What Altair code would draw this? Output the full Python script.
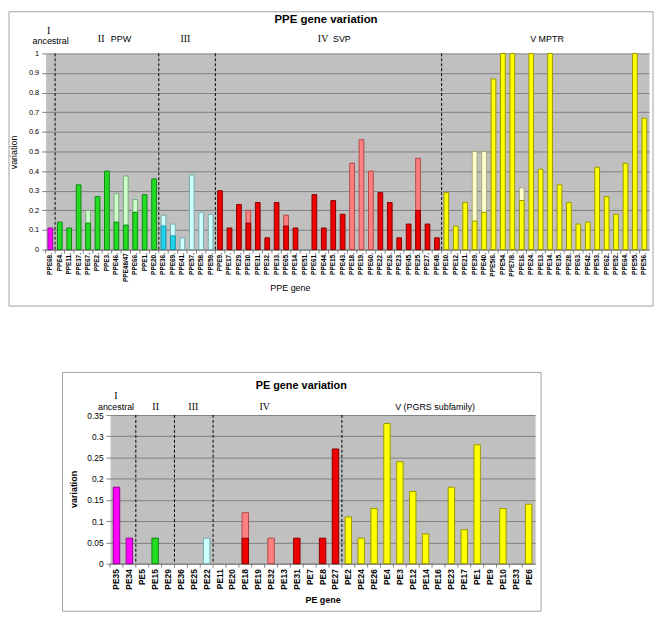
import altair as alt
import pandas as pd

# ---------------- PPE data ----------------
ppe_group_names = ["I", "II", "III", "IV", "V"]
ppe_group_sizes = [1, 11, 6, 24, 22]
ppe_genes = [
    "PPE68.",
    "PPE4.", "PPE11.", "PPE37.", "PPE67.", "PPE2.", "PPE3.", "PPE46.", "PPE48/47", "PPE66.", "PPE1.", "PPE20.",
    "PPE36.", "PPE69.", "PPE41.", "PPE57.", "PPE58.", "PPE59.",
    "PPE9.", "PPE17.", "PPE29.", "PPE30.", "PPE31.", "PPE32.", "PPE33.", "PPE65.", "PPE14.", "PPE51.",
    "PPE61.", "PPE44.", "PPE15.", "PPE43.", "PPE18.", "PPE19.", "PPE60.", "PPE22.", "PPE26.", "PPE23.",
    "PPE45.", "PPE25.", "PPE27.", "PPE49.",
    "PPE10.", "PPE12.", "PPE21.", "PPE39.", "PPE40.", "PPE5/6.", "PPE54.", "PPE7/8.", "PPE16.", "PPE24.",
    "PPE13.", "PPE34.", "PPE35.", "PPE28.", "PPE63.", "PPE42.", "PPE53.", "PPE62.", "PPE52.", "PPE64.",
    "PPE55.", "PPE56.",
]
# saturated (lower) part of each bar
ppe_dark = [
    0.11,
    0.14, 0.11, 0.33, 0.135, 0.27, 0.40, 0.14, 0.125, 0.19, 0.28, 0.36,
    0.12, 0.07, 0, 0, 0, 0,
    0.30, 0.11, 0.23, 0.135, 0.24, 0.06, 0.24, 0.12, 0.11, 0,
    0.28, 0.11, 0.25, 0.18, 0, 0, 0, 0.29, 0.24, 0.06,
    0.13, 0.20, 0.13, 0.06,
    0.29, 0.12, 0.24, 0.145, 0.19, 0.87, 1.0, 1.0, 0.25, 1.0,
    0.41, 1.0, 0.33, 0.24, 0.13, 0.14, 0.42, 0.27, 0.18, 0.44,
    1.0, 0.67,
]
# full bar height (pale part on top)
ppe_total = [
    0.11,
    0.14, 0.11, 0.33, 0.20, 0.27, 0.40, 0.285, 0.375, 0.255, 0.28, 0.36,
    0.175, 0.13, 0.06, 0.38, 0.19, 0.18,
    0.30, 0.11, 0.23, 0.20, 0.24, 0.06, 0.24, 0.175, 0.11, 0,
    0.28, 0.11, 0.25, 0.18, 0.44, 0.56, 0.40, 0.29, 0.24, 0.06,
    0.13, 0.465, 0.13, 0.06,
    0.29, 0.12, 0.24, 0.50, 0.50, 0.87, 1.0, 1.0, 0.315, 1.0,
    0.41, 1.0, 0.33, 0.24, 0.13, 0.14, 0.42, 0.27, 0.18, 0.44,
    1.0, 0.67,
]

# ---------------- PE data ----------------
pe_group_names = ["I", "II", "III", "IV", "V"]
pe_group_sizes = [2, 3, 3, 10, 15]
pe_genes = [
    "PE35", "PE34",
    "PE5", "PE15", "PE29",
    "PE36", "PE25", "PE22",
    "PE11", "PE20", "PE18", "PE19", "PE32", "PE13", "PE31", "PE7", "PE8", "PE27",
    "PE2", "PE24", "PE26", "PE4", "PE3", "PE12", "PE14", "PE16", "PE23", "PE17", "PE1", "PE9", "PE10", "PE33", "PE6",
]
pe_dark = [
    0.18, 0.06,
    0, 0.06, 0,
    0, 0, 0,
    0, 0, 0.06, 0, 0, 0, 0.06, 0, 0.06, 0.27,
    0.11, 0.06, 0.13, 0.33, 0.24, 0.17, 0.07, 0, 0.18, 0.08, 0.28, 0, 0.13, 0, 0.14,
]
pe_total = [
    0.18, 0.06,
    0, 0.06, 0,
    0, 0, 0.06,
    0, 0, 0.12, 0, 0.06, 0, 0.06, 0, 0.06, 0.27,
    0.11, 0.06, 0.13, 0.33, 0.24, 0.17, 0.07, 0, 0.18, 0.08, 0.28, 0, 0.13, 0, 0.14,
]

# ---------------- styles ----------------
GROUPS = ["I", "II", "III", "IV", "V"]
dark_fill = ["#FF00FF", "#22DD22", "#22D3EE", "#EE0000", "#FFFF00"]
dark_stroke = ["#990099", "#118811", "#1899AA", "#8B0000", "#999900"]
light_fill = ["#FF99FF", "#CCFFCC", "#CCFFFF", "#FF8080", "#FFFFCC"]
light_stroke = ["#CC66CC", "#77AA77", "#77AAAA", "#B34747", "#AAAA77"]
FONT = "Liberation Sans, Arial, sans-serif"
SERIF = "Liberation Serif, serif"
ONE = pd.DataFrame({"k": [0]})


def make_df(genes, dark, total, names, sizes):
    groups = []
    for n, s in zip(names, sizes):
        groups += [n] * s
    df = pd.DataFrame({"gene": genes, "group": groups, "dark": dark, "total": total})
    df["dfill"] = df["group"].map(dict(zip(GROUPS, dark_fill)))
    df["dstroke"] = df["group"].map(dict(zip(GROUPS, dark_stroke)))
    df["lfill"] = df["group"].map(dict(zip(GROUPS, light_fill)))
    df["lstroke"] = df["group"].map(dict(zip(GROUPS, light_stroke)))
    return df, groups


def label(text, x, y, size, weight="normal", angle=0, align="center", font=FONT):
    return alt.Chart(ONE).mark_text(
        text=text, fontSize=size, fontWeight=weight, font=font, color="black",
        angle=angle, align=align, baseline="middle",
    ).encode(x=alt.value(x), y=alt.value(y))


def panel(genes, dark, total, names, sizes, W, H, ymax, ystep,
          xlab_size, xlab_weight, xlab_pad, ylab_size, frame, texts):
    df, groups = make_df(genes, dark, total, names, sizes)
    step = W / len(genes)
    xscale = alt.Scale(domain=genes, paddingInner=0.5, paddingOuter=0.25)
    xaxis = alt.Axis(title=None, labelAngle=-90, labelFontSize=xlab_size, labelFontWeight=xlab_weight,
                     labelFont=FONT, labelColor="black", labelPadding=xlab_pad, ticks=False,
                     domainColor="#808080", grid=False, labelOverlap=False)
    nsteps = int(round(ymax / ystep))
    yvals = [round(i * ystep, 2) for i in range(nsteps + 1)]
    yscale = alt.Scale(domain=[0, ymax], nice=False)
    yaxis = alt.Axis(title=None, values=yvals, format="~g", grid=True, gridColor="#808080",
                     gridOpacity=1, domain=False, ticks=True, tickColor="#808080", tickSize=4,
                     labelFontSize=ylab_size, labelFont=FONT, labelColor="black", labelPadding=3)

    base = alt.Chart(df)
    light = base.transform_filter("datum.total > datum.dark").mark_bar(strokeWidth=1).encode(
        x=alt.X("gene:N", scale=xscale, axis=xaxis),
        y=alt.Y("total:Q", scale=yscale, axis=yaxis),
        fill=alt.Fill("lfill:N", scale=None),
        stroke=alt.Stroke("lstroke:N", scale=None),
    )
    darkb = base.transform_filter("datum.dark > 0").mark_bar(strokeWidth=1).encode(
        x=alt.X("gene:N", scale=xscale, axis=xaxis),
        y=alt.Y("dark:Q", scale=yscale, axis=yaxis),
        fill=alt.Fill("dfill:N", scale=None),
        stroke=alt.Stroke("dstroke:N", scale=None),
    )
    firsts = []
    idx = 0
    for s in sizes[:-1]:
        idx += s
        firsts.append(genes[idx])
    seps = alt.Chart(pd.DataFrame({"gene": firsts})).mark_rule(
        color="black", strokeDash=[3, 2], strokeWidth=1, xOffset=-step / 4
    ).encode(
        x=alt.X("gene:N", scale=xscale, axis=xaxis, bandPosition=0),
        y=alt.value(0), y2=alt.value(H),
    )
    ticks = alt.Chart(pd.DataFrame({"gene": genes})).mark_rule(
        color="#808080", strokeWidth=1, xOffset=-step / 4
    ).encode(
        x=alt.X("gene:N", scale=xscale, axis=xaxis, bandPosition=0),
        y=alt.value(H), y2=alt.value(H + 4),
    )
    fx, fx2, fy, fy2 = frame
    frame_rect = alt.Chart(ONE).mark_rect(fill="transparent", stroke="#A0A0A0", strokeWidth=1).encode(
        x=alt.value(fx), x2=alt.value(fx2), y=alt.value(fy), y2=alt.value(fy2)
    )
    layers = [frame_rect, light, darkb, seps, ticks] + texts
    return alt.layer(*layers).properties(width=W, height=H)


# top panel: plot origin at page (45, 50)
top = panel(
    ppe_genes, ppe_dark, ppe_total, ppe_group_names, ppe_group_sizes,
    W=609, H=198, ymax=1.0, ystep=0.1,
    xlab_size=6.5, xlab_weight="bold", xlab_pad=3, ylab_size=7.5,
    frame=(-37, 613, -42, 255),
    texts=[
        label("PPE gene variation", 283, -34, 11.5, "bold"),
        label("I", 3, -23, 10, font=SERIF),
        label("ancestral", 5, -12, 9),
        label("II", 56, -15, 10, font=SERIF),
        label("PPW", 76, -15, 9),
        label("III", 141, -15, 10, font=SERIF),
        label("IV", 280, -15, 10, font=SERIF),
        label("SVP", 299, -15, 9),
        label("V   MPTR", 506, -15, 9),
        label("variation", -32, 100, 9, angle=270),
        label("PPE gene", 247, 237, 9),
    ],
)

# bottom panel: plot origin at page (111, 414)
bottom = panel(
    pe_genes, pe_dark, pe_total, pe_group_names, pe_group_sizes,
    W=429, H=150, ymax=0.35, ystep=0.05,
    xlab_size=8.5, xlab_weight="bold", xlab_pad=5, ylab_size=8.5,
    frame=(-48, 435, -43, 198),
    texts=[
        label("PE gene variation", 193, -29, 11, "bold"),
        label("I", 6, -19, 10, font=SERIF),
        label("ancestral", 6, -8, 9),
        label("II", 46, -8, 10, font=SERIF),
        label("III", 84, -8, 10, font=SERIF),
        label("IV", 156, -8, 10, font=SERIF),
        label("V (PGRS subfamily)", 328, -8, 9),
        label("variation", -36, 75, 9, "bold", angle=270),
        label("PE gene", 215, 187, 9, "bold"),
    ],
)

# invisible spacer that shifts the lower panel to the right
spacer = alt.Chart(ONE).mark_rect(opacity=0).encode(
    x=alt.value(0), x2=alt.value(1), y=alt.value(0), y2=alt.value(1)
).properties(width=1, height=1, view=alt.ViewBackground(fill="transparent", stroke="transparent"))

chart = alt.vconcat(
    top,
    alt.hconcat(spacer, bottom, spacing=14),
    spacing=65,
).properties(padding=0).configure_view(fill="#C0C0C0", stroke="transparent")

chart.save("out.html", embed_options={"renderer": "svg", "actions": False})
